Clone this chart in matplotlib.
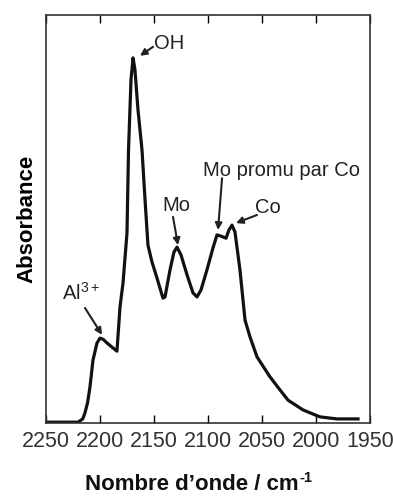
import matplotlib
matplotlib.use("Agg")
import matplotlib.pyplot as plt

plt.rcParams['font.family'] = ['Liberation Sans', 'DejaVu Sans']
plt.rcParams['mathtext.fontset'] = 'custom'
plt.rcParams['mathtext.rm'] = 'Liberation Sans'
plt.rcParams['mathtext.it'] = 'Liberation Sans:italic'
plt.rcParams['mathtext.bf'] = 'Liberation Sans:bold'

wavenumber = [2250, 2220.4, 2216, 2213.9, 2211.5, 2209.3, 2206.5, 2202.8, 2200, 2197, 2193.5,
              2184.3, 2181.5, 2178.7, 2175, 2173.6, 2171.3, 2169.4, 2167.6, 2164.8,
              2161.1, 2158.3, 2155.6, 2151.9, 2147.2, 2141.7, 2139.8, 2135.2, 2131.5,
              2128.7, 2125, 2119.4, 2113.9, 2110.2, 2106.5, 2101, 2095.4, 2091.7,
              2088, 2083.3, 2080.6, 2077.8, 2075, 2070.4, 2065.7, 2061.1, 2054.6,
              2042.6, 2033.3, 2025.9, 2012, 1996.3, 1980.6, 1961.1]
absorbance = [0.002, 0.002, 0.010, 0.025, 0.050, 0.088, 0.154, 0.196, 0.208, 0.205, 0.196,
              0.176, 0.284, 0.343, 0.466, 0.669, 0.841, 0.895, 0.865, 0.767,
              0.669, 0.547, 0.436, 0.395, 0.355, 0.306, 0.309, 0.375, 0.419,
              0.431, 0.412, 0.363, 0.319, 0.309, 0.326, 0.375, 0.429, 0.461,
              0.458, 0.453, 0.473, 0.485, 0.468, 0.375, 0.252, 0.211, 0.162,
              0.113, 0.081, 0.056, 0.032, 0.015, 0.010, 0.010]

xticks = [2250, 2200, 2150, 2100, 2050, 2000, 1950]

labels = ["OH", "Mo", "Mo promu par Co", "Co", "Al$^{\\mathrm{3+}}$"]
label_pos = [(2136.1, 0.931), (2129.6, 0.534), (2031.5, 0.620), (2044.4, 0.529), (2218.0, 0.319)]
arrow_tail = [(2150.9, 0.922), (2132.4, 0.505), (2087.0, 0.600), (2054.6, 0.510), (2213.9, 0.282)]
arrow_head = [(2163.0, 0.900), (2127.8, 0.436), (2090.7, 0.473), (2074.1, 0.490), (2198.1, 0.216)]

W, H = 393, 496
fig = plt.figure(figsize=(W / 100, H / 100), dpi=100)
ax = fig.add_axes([46 / W, 1 - 423 / H, 324 / W, 408 / H])

ax.plot(wavenumber, absorbance, color='#111111', lw=2.3, solid_joinstyle='round')
ax.set_xlim(2250, 1950)
ax.set_ylim(0, 1)
ax.set_xticks(xticks)
ax.set_xticklabels([str(t) for t in xticks], fontsize=15.5, color='#333333')
ax.tick_params(axis='x', direction='in', length=6, width=1, top=True, pad=6)
ax.set_yticks([])
for s in ax.spines.values():
    s.set_linewidth(1.2)
    s.set_color('#333333')

ax.set_ylabel("Absorbance", fontsize=16, fontweight='bold', labelpad=6)

# x-axis label with a small raised "-1"
xl = fig.text(192 / W, 1 - 485 / H, "Nombre d’onde / cm", fontsize=16, fontweight='bold',
              ha='center', va='center', color='#111111')
fig.canvas.draw()
bb = xl.get_window_extent()
fig.text((bb.x1 + 1) / W, (bb.y1 - 4) / H, "-1", fontsize=10.5, fontweight='bold',
         ha='left', va='center', color='#111111')

for lab, pos, tail, head in zip(labels, label_pos, arrow_tail, arrow_head):
    ax.text(pos[0], pos[1], lab, fontsize=14.5, ha='center', va='center', color='#222222')
    ax.annotate('', xy=head, xytext=tail,
                arrowprops=dict(arrowstyle='-|>', lw=1.5, color='#222222',
                                mutation_scale=10, shrinkA=0, shrinkB=0))

fig.savefig("out.png", dpi=100)
